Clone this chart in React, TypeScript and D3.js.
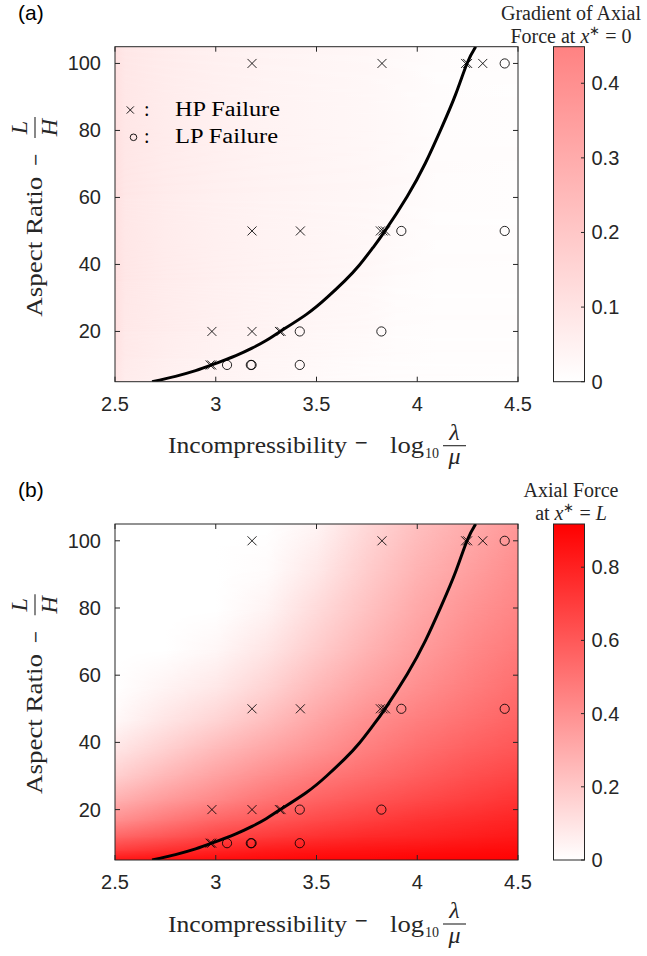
import React from 'react'
import * as d3 from 'd3'

// axes
const xDomain = [2.5, 4.5]
const yDomain = [5, 105]
const xTicks = [2.5, 3, 3.5, 4, 4.5]
const yTicks = [20, 40, 60, 80, 100]

// failure cases: log10(lambda/mu) vs L/H
const hpLog = [3.18, 3.825, 4.24, 4.25, 4.325, 3.18, 3.42, 3.817, 3.83, 3.842, 2.981, 3.18, 3.316, 3.324, 2.972, 2.98]
const hpAspect = [100, 100, 100, 100, 100, 50, 50, 50, 50, 50, 20, 20, 20, 20, 10, 10]
const lpLog = [4.434, 3.921, 4.434, 3.417, 3.822, 3.056, 3.174, 3.178, 3.417]
const lpAspect = [100, 50, 50, 20, 20, 10, 10, 10, 10]

// boundary curve
const curveLog = [2.684, 2.8, 2.9, 2.98, 3.1, 3.18, 3.25, 3.32, 3.45, 3.55, 3.64, 3.71, 3.78, 3.84, 3.95, 4.04, 4.12, 4.19, 4.247, 4.29]
const curveAspect = [5, 6.6, 8.3, 10, 12.8, 15, 17.3, 20, 25.1, 30, 35.1, 39.6, 45, 50, 60.3, 70.2, 80.7, 90.7, 100, 105]

// (a) gradient of axial force at x*=0
const gradLog = [2.5, 2.55, 2.75, 3.0, 3.25, 3.5, 3.75, 3.9, 4.1, 4.5]
const gradAspect = [5, 12, 20, 35, 60, 105]
const gradValues = [
  [0.09, 0.065, 0.05, 0.038, 0.028, 0.018, 0.012, 0.008, 0.006, 0.005],
  [0.1, 0.075, 0.058, 0.045, 0.034, 0.024, 0.015, 0.01, 0.007, 0.006],
  [0.11, 0.08, 0.065, 0.05, 0.04, 0.03, 0.02, 0.012, 0.008, 0.006],
  [0.11, 0.085, 0.07, 0.055, 0.045, 0.036, 0.026, 0.016, 0.009, 0.006],
  [0.11, 0.085, 0.07, 0.055, 0.045, 0.037, 0.03, 0.02, 0.01, 0.006],
  [0.11, 0.085, 0.07, 0.055, 0.045, 0.037, 0.03, 0.02, 0.01, 0.006],
]
const gradTicks = [0, 0.1, 0.2, 0.3, 0.4]

// (b) axial force at x*=L
const forceLog = [2.5, 2.75, 3.0, 3.25, 3.5, 3.75, 4.0, 4.25, 4.5]
const forceAspect = [5, 8, 12, 17, 23, 30, 38, 47, 57, 68, 80, 92, 105]
const forceValues = [
  [0.85, 0.87, 0.88, 0.89, 0.9, 0.9, 0.91, 0.91, 0.91],
  [0.7, 0.75, 0.79, 0.82, 0.84, 0.85, 0.86, 0.87, 0.88],
  [0.55, 0.61, 0.67, 0.71, 0.74, 0.77, 0.79, 0.81, 0.83],
  [0.4, 0.48, 0.55, 0.6, 0.65, 0.69, 0.73, 0.76, 0.79],
  [0.28, 0.36, 0.43, 0.5, 0.56, 0.61, 0.65, 0.69, 0.73],
  [0.17, 0.26, 0.34, 0.41, 0.48, 0.53, 0.58, 0.63, 0.67],
  [0.09, 0.17, 0.25, 0.32, 0.39, 0.46, 0.52, 0.57, 0.61],
  [0.02, 0.09, 0.15, 0.23, 0.32, 0.4, 0.46, 0.51, 0.56],
  [0.0, 0.04, 0.08, 0.15, 0.25, 0.33, 0.4, 0.46, 0.52],
  [0.0, 0.0, 0.03, 0.09, 0.18, 0.27, 0.35, 0.42, 0.48],
  [0.0, 0.0, 0.0, 0.04, 0.13, 0.22, 0.31, 0.38, 0.44],
  [0.0, 0.0, 0.0, 0.01, 0.08, 0.18, 0.27, 0.34, 0.41],
  [0.0, 0.0, 0.0, 0.0, 0.04, 0.14, 0.23, 0.3, 0.37],
]
const forceTicks = [0, 0.2, 0.4, 0.6, 0.8]

const X0 = 115
const X1 = 518
const CB0 = 553.5
const CB1 = 584.5
const AX = '#262626'
const sans = "'Liberation Sans', Arial, Helvetica, sans-serif"
const serif = "'Liberation Serif', 'Times New Roman', serif"
const minusFont = "'DejaVu Sans', sans-serif"

const color = d3.scaleLinear<string>().domain([0, 0.918]).range(['#ffffff', '#ff0000']).clamp(true)

function Panel(props: any) {
  const { id, y0, y1, heatLog, heatAspect, heatValues, cbMax, cbTicks, title, tag, legend } = props
  const x = d3.scaleLinear().domain(xDomain).range([X0, X1])
  const y = d3.scaleLinear().domain(yDomain).range([y1, y0])
  const cb = d3.scaleLinear().domain([0, cbMax]).range([y1, y0])
  const hx0 = heatLog[0]
  const hx1 = heatLog[heatLog.length - 1]
  const line = d3.line<number>()
    .x((d, i) => x(curveLog[i]))
    .y((d) => y(d))
    .curve(d3.curveNatural)

  return (
    <g>
      <defs>
        {heatValues.map((row: number[], i: number) => (
          <linearGradient key={i} id={`${id}-row${i}`} gradientUnits="userSpaceOnUse" x1={x(hx0)} x2={x(hx1)} y1={0} y2={0}>
            {row.map((v, j) => (
              <stop key={j} offset={(heatLog[j] - hx0) / (hx1 - hx0)} stopColor={color(v)} />
            ))}
          </linearGradient>
        ))}
        <linearGradient id={`${id}-fade`} x1="0" y1="1" x2="0" y2="0">
          <stop offset="0" stopColor="#fff" stopOpacity="0" />
          <stop offset="1" stopColor="#fff" stopOpacity="1" />
        </linearGradient>
        <mask id={`${id}-mask`} maskContentUnits="objectBoundingBox" style={{ maskType: 'alpha' } as any}>
          <rect width="1" height="1" fill={`url(#${id}-fade)`} />
        </mask>
        <clipPath id={`${id}-clip`}>
          <rect x={X0} y={y0} width={X1 - X0} height={y1 - y0} />
        </clipPath>
        <linearGradient id={`${id}-cb`} x1="0" y1="1" x2="0" y2="0">
          <stop offset="0" stopColor={color(0)} />
          <stop offset="1" stopColor={color(cbMax)} />
        </linearGradient>
      </defs>

      {/* heat map: each band blends two sampled rows */}
      <g clipPath={`url(#${id}-clip)`}>
        {heatAspect.slice(0, -1).map((a: number, i: number) => {
          const top = y(heatAspect[i + 1])
          const bot = y(a)
          return (
            <g key={i}>
              <rect x={X0} y={top} width={X1 - X0} height={bot - top + 0.8} fill={`url(#${id}-row${i})`} />
              <rect x={X0} y={top} width={X1 - X0} height={bot - top + 0.8} fill={`url(#${id}-row${i + 1})`} mask={`url(#${id}-mask)`} />
            </g>
          )
        })}
      </g>

      {/* markers */}
      <g stroke="#000" strokeWidth={0.85} fill="none">
        {hpLog.map((v, i) => (
          <path key={'h' + i} transform={`translate(${x(v)},${y(hpAspect[i])})`} d="M-4.5,-4.5L4.5,4.5M-4.5,4.5L4.5,-4.5" />
        ))}
        {lpLog.map((v, i) => (
          <circle key={'l' + i} cx={x(v)} cy={y(lpAspect[i])} r={4.6} />
        ))}
      </g>

      <g clipPath={`url(#${id}-clip)`}>
        <path d={line(curveAspect) || ''} fill="none" stroke="#000" strokeWidth={3} />
      </g>

      {/* axes box and ticks */}
      <g stroke={AX} strokeWidth={1} fill="none">
        <rect x={X0} y={y0} width={X1 - X0} height={y1 - y0} />
        {xTicks.map((t) => (
          <g key={t}>
            <line x1={x(t)} x2={x(t)} y1={y1} y2={y1 - 5} />
            <line x1={x(t)} x2={x(t)} y1={y0} y2={y0 + 5} />
          </g>
        ))}
        {yTicks.map((t) => (
          <g key={t}>
            <line x1={X0} x2={X0 + 5} y1={y(t)} y2={y(t)} />
            <line x1={X1} x2={X1 - 5} y1={y(t)} y2={y(t)} />
          </g>
        ))}
      </g>
      <g fontFamily={sans} fontSize={20} fill={AX}>
        {xTicks.map((t) => (
          <text key={t} x={x(t)} y={y1 + 29} textAnchor="middle">{String(t)}</text>
        ))}
        {yTicks.map((t) => (
          <text key={t} x={101} y={y(t) + 7} textAnchor="end">{String(t)}</text>
        ))}
      </g>

      {/* x label */}
      <g fontFamily={serif} fill={AX} fontSize={24}>
        <text x={168} y={y1 + 71.7} textLength={179} lengthAdjust="spacingAndGlyphs">Incompressibility</text>
        <text x={354} y={y1 + 66} fontFamily={minusFont} fontSize={17}>−</text>
        <text x={390} y={y1 + 71.7} textLength={34} lengthAdjust="spacingAndGlyphs">log</text>
        <text x={425} y={y1 + 76.5} fontSize={14}>10</text>
        <text x={454.5} y={y1 + 58} fontStyle="italic" textAnchor="middle">λ</text>
        <line x1={443} x2={466} y1={y1 + 64} y2={y1 + 64} stroke={AX} strokeWidth={1.1} />
        <text x={454.5} y={y1 + 82.5} fontStyle="italic" textAnchor="middle">μ</text>
      </g>

      {/* y label */}
      <g fontFamily={serif} fill={AX} fontSize={24}>
        <text transform={`translate(42,${y0 + 270}) rotate(-90)`} textLength={140} lengthAdjust="spacingAndGlyphs">Aspect Ratio</text>
        <text transform={`translate(41,${y0 + 120}) rotate(-90)`} fontFamily={minusFont} fontSize={16}>−</text>
        <line x1={35} x2={35} y1={y0 + 70.3} y2={y0 + 91.3} stroke={AX} strokeWidth={1.1} />
        <text transform={`translate(27,${y0 + 80.8}) rotate(-90)`} fontStyle="italic" textAnchor="middle">L</text>
        <text transform={`translate(57,${y0 + 80.8}) rotate(-90)`} fontStyle="italic" textAnchor="middle">H</text>
      </g>

      {/* legend */}
      {legend && (
        <g fontFamily={serif} fontSize={20} fill="#000">
          <path transform={`translate(130.3,${y0 + 63.3})`} d="M-3.6,-3.6L3.6,3.6M-3.6,3.6L3.6,-3.6" stroke="#000" strokeWidth={0.9} />
          <text x={144} y={y0 + 69.3}>:</text>
          <text x={175} y={y0 + 69.3} textLength={105} lengthAdjust="spacingAndGlyphs">HP Failure</text>
          <circle cx={133.5} cy={y0 + 90.6} r={3.3} fill="none" stroke="#000" strokeWidth={0.9} />
          <text x={144} y={y0 + 96}>:</text>
          <text x={175} y={y0 + 96} textLength={103} lengthAdjust="spacingAndGlyphs">LP Failure</text>
        </g>
      )}

      {/* colorbar */}
      <rect x={CB0} y={y0} width={CB1 - CB0} height={y1 - y0} fill={`url(#${id}-cb)`} stroke={AX} strokeWidth={1} />
      <g stroke={AX} strokeWidth={1}>
        {cbTicks.map((t: number) => (
          <line key={t} x1={CB1 - 3.5} x2={CB1} y1={cb(t)} y2={cb(t)} />
        ))}
      </g>
      <g fontFamily={sans} fontSize={20} fill={AX}>
        {cbTicks.map((t: number) => (
          <text key={t} x={591.5} y={cb(t) + 7}>{String(t)}</text>
        ))}
      </g>
      <g fontFamily={serif} fontSize={20} fill={AX} textAnchor="middle">
        <text x={571} y={y0 - 26.6}>{title[0]}</text>
        <text x={571} y={y0 - 4}>
          {title[1]}
          <tspan fontStyle="italic">x</tspan>
          <tspan fontSize={13} dy={-8}>∗</tspan>
          <tspan dy={8}> = </tspan>
          <tspan fontStyle={title[2] === 'L' ? 'italic' : 'normal'}>{title[2]}</tspan>
        </text>
      </g>

      <text x={18} y={y0 - 26.7} fontFamily={sans} fontSize={21} fill="#000">{tag}</text>
    </g>
  )
}

export default function App() {
  return (
    <svg width={647} height={956} style={{ position: 'absolute', left: 0, top: 0, background: '#fff' }}>
      <Panel
        id="pa" y0={46.7} y1={381.7}
        heatLog={gradLog} heatAspect={gradAspect} heatValues={gradValues}
        cbMax={0.449} cbTicks={gradTicks}
        title={['Gradient of Axial', 'Force at ', '0']}
        tag="(a)" legend
      />
      <Panel
        id="pb" y0={524} y1={860}
        heatLog={forceLog} heatAspect={forceAspect} heatValues={forceValues}
        cbMax={0.918} cbTicks={forceTicks}
        title={['Axial Force', 'at ', 'L']}
        tag="(b)"
      />
    </svg>
  )
}
